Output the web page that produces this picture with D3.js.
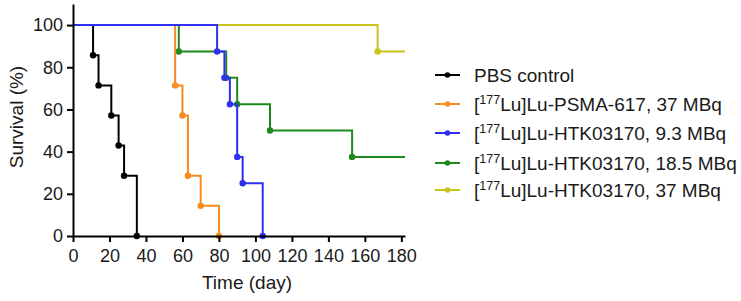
<!DOCTYPE html>
<html><head><meta charset="utf-8">
<script src="https://cdn.jsdelivr.net/npm/d3@7"></script>
<style>
html,body{margin:0;padding:0;background:#fff;}
svg{display:block;font-family:"Liberation Sans",Arial,sans-serif;}
</style></head>
<body><svg id="c" width="741" height="301"></svg>
<script>
// ---- data ----
const studyEnd = 182;
const xTicks = [0,20,40,60,80,100,120,140,160,180];
const yTicks = [0,20,40,60,80,100];
const seriesNames = ["PBS control","PSMA-617, 37 MBq","HTK03170, 9.3 MBq","HTK03170, 18.5 MBq","HTK03170, 37 MBq"];
const seriesColors = ["#000000","#f68b1f","#2f2ff0","#1e8a1e","#c8c41c"];
// event times (days) and survival (%) after each event
const pbsTimes   = [11, 14, 21, 25, 28, 35];
const pbsSurv    = [85.7, 71.4, 57.1, 42.9, 28.6, 0];
const psmaTimes  = [56, 60, 63, 70, 80];
const psmaSurv   = [71.4, 57.1, 28.6, 14.3, 0];
const htkLowTimes = [79, 83, 86, 90, 93, 104];
const htkLowSurv  = [87.5, 75, 62.5, 37.5, 25, 0];
const htkMidTimes = [58, 84, 90, 108, 153];
const htkMidSurv  = [87.5, 75, 62.5, 50, 37.5];
const htkHighTimes = [167];
const htkHighSurv  = [87.5];

const series = [
  {t:pbsTimes, s:pbsSurv},
  {t:psmaTimes, s:psmaSurv},
  {t:htkLowTimes, s:htkLowSurv},
  {t:htkMidTimes, s:htkMidSurv},
  {t:htkHighTimes, s:htkHighSurv}
].map((d,i)=>({...d, name:seriesNames[i], color:seriesColors[i]}));

// ---- layout ----
const svg = d3.select("#c");
const x = d3.scaleLinear().domain([0,182]).range([73,405]);
const y = d3.scaleLinear().domain([0,110]).range([236,4]);
const txt = "#1a1a1a";

function stepPoints(d){
  const pts=[[0,100]];
  let cur=100;
  d.t.forEach((t,i)=>{pts.push([t,cur]);cur=d.s[i];pts.push([t,cur]);});
  if(cur>0) pts.push([studyEnd,cur]);
  return pts;
}
const line = d3.line().x(p=>x(p[0])).y(p=>y(p[1]));
const drawOrder = [4,3,0,1,2];
drawOrder.forEach(i=>{
  const d=series[i];
  const g=svg.append("g");
  g.append("path").attr("d",line(stepPoints(d))).attr("fill","none")
    .attr("stroke",d.color).attr("stroke-width",2);
  g.selectAll("circle").data(d.t.map((t,k)=>[t,d.s[k]])).join("circle")
    .attr("cx",p=>x(p[0])).attr("cy",p=>y(p[1])).attr("r",3.2).attr("fill",d.color);
});

// axes
const xAxis = svg.append("g").attr("transform","translate(0,236)")
  .call(d3.axisBottom(x).tickValues(xTicks).tickSize(6).tickPadding(7).tickSizeOuter(0));
const yAxis = svg.append("g").attr("transform","translate(73,0)")
  .call(d3.axisLeft(y).tickValues(yTicks).tickSize(6).tickPadding(4).tickSizeOuter(0));
[xAxis,yAxis].forEach(a=>{
  a.select(".domain").attr("stroke","#000").attr("stroke-width",2);
  a.selectAll(".tick line").attr("stroke","#000").attr("stroke-width",2);
  a.selectAll(".tick text").attr("fill",txt).style("font-size","18px")
   .style("font-family","'Liberation Sans',Arial,sans-serif");
});

svg.append("text").attr("x",247).attr("y",289).attr("text-anchor","middle")
  .attr("fill",txt).style("font-size","19px").text("Time (day)");
svg.append("text").attr("transform","translate(23,117) rotate(-90)").attr("text-anchor","middle")
  .attr("fill",txt).style("font-size","19px").text("Survival (%)");

// legend
const legBase = [82,111,140,170,197];
series.forEach((d,i)=>{
  const yy = legBase[i];
  svg.append("line").attr("x1",435).attr("x2",460).attr("y1",yy-7).attr("y2",yy-7)
    .attr("stroke",d.color).attr("stroke-width",2);
  svg.append("circle").attr("cx",447.5).attr("cy",yy-7).attr("r",2.8).attr("fill",d.color);
  const t = svg.append("text").attr("x",474).attr("y",yy).attr("fill",txt).style("font-size","19px");
  if(i===0){ t.text(d.name); }
  else {
    t.append("tspan").text("[");
    t.append("tspan").attr("dy",-7).style("font-size","12.5px").text("177");
    t.append("tspan").attr("dy",7).text("Lu]Lu-"+d.name);
  }
});
</script></body></html>
